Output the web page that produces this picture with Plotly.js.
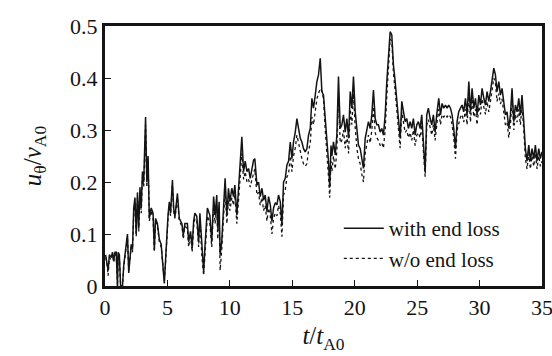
<!DOCTYPE html>
<html>
<head>
<meta charset="utf-8">
<script src="https://cdn.plot.ly/plotly-3.0.1.min.js"></script>
<style>html,body{margin:0;padding:0;background:#fff;}</style>
</head>
<body>
<div id="chart"></div>
<script>
const tValues = [0.05,0.15,0.25,0.35,0.5,0.6,0.7,0.8,0.9,1.0,1.05,1.15,1.25,1.4,1.5,1.7,1.8,1.9,2.0,2.1,2.2,2.3,2.4,2.5,2.6,2.7,2.8,2.9,3.0,3.1,3.25,3.35,3.45,3.55,3.7,3.85,3.95,4.05,4.2,4.35,4.5,4.65,4.75,4.85,4.95,5.05,5.15,5.25,5.4,5.5,5.6,5.8,5.95,6.16,6.27,6.4,6.6,6.7,6.85,6.98,7.1,7.2,7.35,7.5,7.6,7.75,7.9,8.0,8.2,8.4,8.55,8.7,8.82,8.95,9.03,9.14,9.22,9.35,9.49,9.62,9.76,9.89,10.0,10.16,10.29,10.4,10.56,10.7,10.83,10.96,11.1,11.23,11.37,11.5,11.63,11.77,11.9,12.0,12.17,12.3,12.43,12.57,12.7,12.83,12.97,13.1,13.24,13.37,13.5,13.64,13.77,13.9,14.04,14.17,14.3,14.44,14.57,14.7,14.84,14.97,15.1,15.24,15.37,15.5,15.64,15.77,15.9,16.03,16.17,16.3,16.44,16.57,16.7,16.84,16.97,17.1,17.24,17.37,17.5,17.64,17.77,17.9,18.0,18.1,18.17,18.3,18.44,18.57,18.7,18.84,18.97,19.1,19.24,19.37,19.51,19.64,19.77,19.9,20.04,20.17,20.3,20.44,20.57,20.7,20.84,20.97,21.1,21.24,21.37,21.5,21.64,21.77,21.9,22.04,22.17,22.3,22.44,22.57,22.7,22.84,22.97,23.1,23.24,23.37,23.5,23.64,23.77,23.9,24.04,24.17,24.3,24.44,24.57,24.7,24.84,24.97,25.1,25.24,25.37,25.5,25.64,25.77,25.9,26.04,26.17,26.3,26.44,26.57,26.73,26.87,27.0,27.13,27.27,27.4,27.53,27.67,27.8,27.93,28.07,28.2,28.33,28.47,28.6,28.73,28.87,29.0,29.14,29.27,29.4,29.54,29.67,29.8,29.94,30.07,30.2,30.34,30.47,30.6,30.74,30.87,31.0,31.14,31.27,31.4,31.54,31.67,31.8,31.94,32.07,32.2,32.34,32.47,32.6,32.74,32.87,33.0,33.14,33.27,33.4,33.54,33.67,33.8,33.94,34.07,34.2,34.34,34.47,34.6,34.74,34.87,35.0];

const withEndLoss = [0.06,0.04,0.03,0.06,0.055,0.065,0.05,0.065,0.065,0.0,0.065,0.06,0.0,0.0,0.04,0.08,0.10,0.025,0.06,0.08,0.07,0.15,0.17,0.10,0.18,0.11,0.19,0.15,0.22,0.20,0.325,0.20,0.25,0.13,0.15,0.14,0.07,0.13,0.12,0.09,0.08,0.03,0.005,0.05,0.105,0.137,0.162,0.14,0.204,0.15,0.133,0.178,0.13,0.12,0.098,0.12,0.12,0.085,0.105,0.073,0.125,0.14,0.134,0.085,0.14,0.073,0.028,0.073,0.15,0.136,0.085,0.172,0.136,0.175,0.11,0.162,0.06,0.085,0.143,0.207,0.136,0.188,0.162,0.188,0.172,0.194,0.136,0.194,0.233,0.287,0.22,0.24,0.22,0.226,0.207,0.226,0.242,0.245,0.194,0.2,0.172,0.188,0.165,0.175,0.143,0.172,0.156,0.124,0.15,0.16,0.156,0.175,0.162,0.117,0.2,0.207,0.233,0.24,0.277,0.245,0.277,0.296,0.322,0.303,0.284,0.277,0.264,0.258,0.264,0.29,0.303,0.361,0.342,0.367,0.393,0.406,0.438,0.374,0.367,0.322,0.284,0.24,0.19,0.27,0.25,0.277,0.252,0.29,0.403,0.303,0.31,0.329,0.296,0.322,0.284,0.374,0.342,0.403,0.335,0.296,0.271,0.264,0.245,0.226,0.284,0.303,0.316,0.303,0.329,0.377,0.322,0.31,0.31,0.296,0.303,0.29,0.329,0.393,0.45,0.489,0.483,0.425,0.393,0.355,0.322,0.284,0.355,0.335,0.316,0.322,0.303,0.316,0.303,0.322,0.29,0.31,0.316,0.303,0.329,0.277,0.22,0.329,0.342,0.322,0.31,0.329,0.296,0.33,0.361,0.329,0.351,0.342,0.348,0.342,0.348,0.342,0.329,0.303,0.264,0.316,0.335,0.342,0.348,0.335,0.361,0.329,0.393,0.335,0.38,0.342,0.361,0.329,0.367,0.348,0.38,0.361,0.348,0.374,0.355,0.374,0.393,0.419,0.406,0.374,0.393,0.367,0.38,0.355,0.329,0.335,0.303,0.329,0.38,0.316,0.348,0.335,0.361,0.329,0.367,0.316,0.264,0.24,0.271,0.24,0.264,0.245,0.271,0.24,0.264,0.245,0.258];

const withoutEndLoss = [0.055,0.045,0.02,0.055,0.05,0.06,0.045,0.06,0.06,0.0,0.06,0.055,0.0,0.0,0.035,0.075,0.095,0.03,0.055,0.075,0.065,0.14,0.16,0.095,0.17,0.105,0.18,0.14,0.21,0.19,0.31,0.19,0.24,0.125,0.145,0.13,0.065,0.125,0.115,0.085,0.075,0.025,0.01,0.045,0.1,0.13,0.155,0.135,0.195,0.145,0.13,0.17,0.125,0.115,0.09,0.115,0.11,0.075,0.1,0.065,0.115,0.13,0.125,0.075,0.13,0.06,0.02,0.065,0.135,0.12,0.075,0.155,0.12,0.155,0.09,0.14,0.03,0.07,0.125,0.185,0.12,0.165,0.145,0.17,0.155,0.175,0.12,0.18,0.21,0.255,0.205,0.22,0.2,0.205,0.19,0.205,0.22,0.225,0.175,0.18,0.155,0.17,0.145,0.155,0.125,0.15,0.135,0.1,0.13,0.14,0.135,0.155,0.14,0.095,0.175,0.185,0.21,0.215,0.25,0.22,0.25,0.265,0.29,0.275,0.255,0.245,0.235,0.23,0.235,0.26,0.275,0.325,0.31,0.335,0.36,0.37,0.38,0.375,0.36,0.3,0.26,0.21,0.17,0.24,0.22,0.25,0.225,0.26,0.36,0.275,0.28,0.3,0.265,0.29,0.255,0.34,0.31,0.37,0.305,0.265,0.245,0.235,0.215,0.2,0.255,0.275,0.29,0.275,0.3,0.345,0.295,0.285,0.28,0.27,0.275,0.265,0.3,0.365,0.43,0.475,0.47,0.41,0.375,0.335,0.3,0.265,0.335,0.315,0.295,0.3,0.285,0.295,0.28,0.3,0.27,0.29,0.295,0.285,0.31,0.26,0.21,0.31,0.32,0.305,0.29,0.31,0.28,0.31,0.34,0.31,0.33,0.325,0.33,0.325,0.33,0.325,0.31,0.285,0.245,0.3,0.315,0.325,0.33,0.315,0.34,0.31,0.37,0.315,0.36,0.325,0.34,0.31,0.345,0.33,0.36,0.34,0.33,0.355,0.335,0.355,0.375,0.4,0.39,0.355,0.37,0.35,0.36,0.335,0.31,0.315,0.285,0.31,0.36,0.3,0.33,0.315,0.34,0.31,0.345,0.3,0.245,0.225,0.255,0.225,0.25,0.23,0.255,0.225,0.25,0.23,0.24];

const xTickVals = [0,5,10,15,20,25,30,35];
const yTickVals = [0,0.1,0.2,0.3,0.4,0.5];
const yTickText = ['0','0.1','0.2','0.3','0.4','0.5'];
const legendNames = ['with end loss','w/o end loss'];

const serif = 'Times New Roman, Liberation Serif, Tinos, Nimbus Roman, DejaVu Serif, serif';
const ink = '#141414';

const traces = [
  {x: tValues, y: withoutEndLoss, name: legendNames[1], mode: 'lines', type: 'scatter',
   line: {color: ink, width: 1.3, dash: 'dot'}, legendrank: 2},
  {x: tValues, y: withEndLoss, name: legendNames[0], mode: 'lines', type: 'scatter',
   line: {color: ink, width: 1.5}, legendrank: 1}
];

const axisCommon = {
  showline: true, linewidth: 3, linecolor: ink, mirror: true,
  ticks: 'inside', ticklen: 6, tickwidth: 1.2, tickcolor: ink,
  showgrid: false, zeroline: false, ticklabeloverflow: 'allow',
  tickfont: {family: serif, size: 22, color: ink}
};

const layout = {
  width: 552, height: 356,
  margin: {l: 105, r: 10, t: 26, b: 70},
  paper_bgcolor: '#ffffff', plot_bgcolor: '#ffffff',
  font: {family: serif, color: ink},
  showlegend: true,
  legend: {x: 0.535, y: 0.30, xanchor: 'left', yanchor: 'top',
           bgcolor: 'rgba(255,255,255,0)',
           font: {family: serif, size: 21, color: ink},
           itemwidth: 40},
  xaxis: Object.assign({}, axisCommon, {
    range: [0, 35], tickvals: xTickVals, ticktext: xTickVals.map(String),
    title: {text: '<i>t</i>/<i>t</i><sub>A0</sub>', font: {family: serif, size: 25, color: ink}, standoff: 8}
  }),
  yaxis: Object.assign({}, axisCommon, {
    range: [0, 0.5], tickvals: yTickVals, ticktext: yTickText,
    title: {text: '<i>u</i><sub>θ</sub>/<i>v</i><sub>A0</sub>', font: {family: serif, size: 25, color: ink}, standoff: 22}
  })
};

Plotly.newPlot('chart', traces, layout, {displayModeBar: false});
</script>
</body>
</html>
